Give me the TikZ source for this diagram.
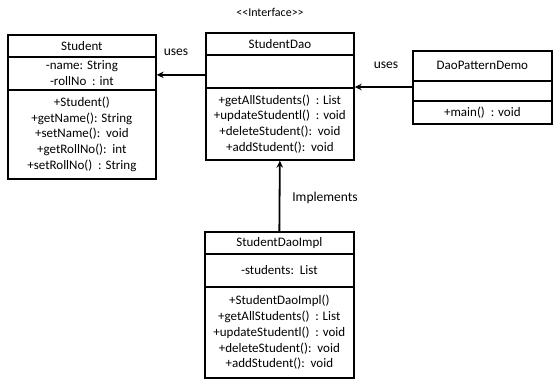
\documentclass[tikz,border=0pt]{standalone}
\usepackage{fontspec}
\setmainfont{Carlito}
\usetikzlibrary{arrows.meta,calc}
\begin{document}
\begin{tikzpicture}[x=1pt,y=-1pt,
  cell/.style={draw, line width=1.7pt, anchor=north west, inner sep=0pt, align=center,
    font=\fontsize{13}{15.8}\selectfont},
  conn/.style={line width=1.8pt, -{Stealth[length=7pt,width=6.5pt]}},
  lbl/.style={font=\fontsize{13.5}{15}\selectfont, inner sep=0pt}]
\useasboundingbox (0,0) rectangle (560,384);
% Student
\node[cell, minimum width=148pt, minimum height=22pt] (stuH) at (7,34) {Student};
\node[cell, minimum width=148pt, minimum height=33pt] (stuA) at (7,56) {-name: String\\-rollNo\ \ : int};
\node[cell, minimum width=148pt, minimum height=89pt] (stuM) at (7,89) {+Student()\\+getName(): String\\+setName():\ \ void\\+getRollNo():\ \ int\\+setRollNo()\ \ : String};
% StudentDao
\node[font=\fontsize{12}{14}\selectfont, inner sep=0pt] (iface) at (270,12) {<{}<Interface>{}>};
\node[cell, minimum width=148pt, minimum height=22pt] (daoH) at (205,32) {StudentDao};
\node[cell, minimum width=148pt, minimum height=33pt] (daoA) at (205,54) {};
\node[cell, minimum width=148pt, minimum height=72pt] (daoM) at (205,87) {+getAllStudents()\ \ : List\\+updateStudentl()\ \ : void\\+deleteStudent():\ \ void\\+addStudent():\ \ void};
% DaoPatternDemo
\node[cell, minimum width=139pt, minimum height=30pt] (demoH) at (412,50) {DaoPatternDemo};
\node[cell, minimum width=139pt, minimum height=20pt] (demoA) at (412,80) {};
\node[cell, minimum width=139pt, minimum height=23pt] (demoM) at (412,100) {+main()\ \ : void};
% StudentDaoImpl
\node[cell, minimum width=149pt, minimum height=22pt] (implH) at (204,231) {StudentDaoImpl};
\node[cell, minimum width=149pt, minimum height=33pt] (implA) at (204,253) {-students:\ \ List};
\node[cell, minimum width=149pt, minimum height=91pt] (implM) at (204,286) {+StudentDaoImpl()\\+getAllStudents()\ \ : List\\+updateStudentl()\ \ : void\\+deleteStudent():\ \ void\\+addStudent():\ \ void};
% connectors
\coordinate (c1) at ([yshift=-3.5pt]daoA.west);
\draw[conn] (c1) -- (c1 -| stuA.east);
\draw[conn] (daoM.north east -| demoA.west) -- (daoM.north east);
\draw[conn] (implH.north) -- (daoM.south);
% labels
\node[lbl] (u1) at (176,52) {uses};
\node[lbl] (u2) at (386,65) {uses};
\node[lbl] (imp) at (325,198) {Implements};
\end{tikzpicture}
\end{document}
